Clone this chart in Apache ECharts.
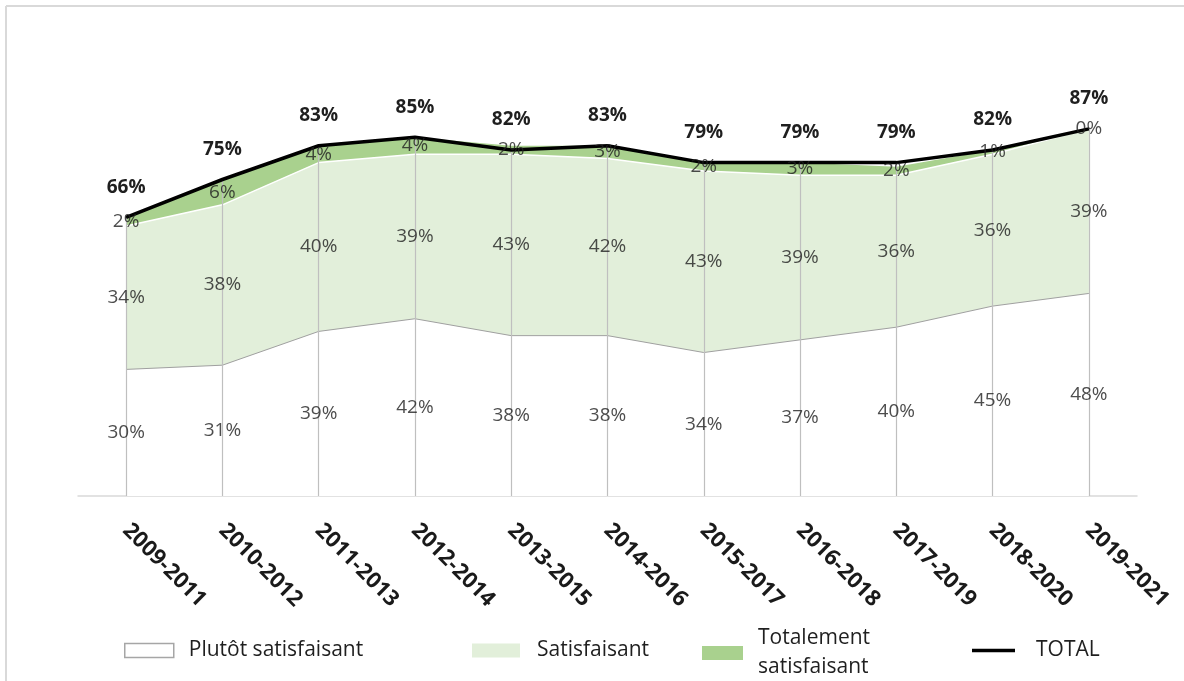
<!DOCTYPE html>
<html>
<head>
<meta charset="utf-8">
<script src="https://cdn.jsdelivr.net/npm/echarts@6/dist/echarts.min.js"></script>
<style>
  html, body { margin: 0; padding: 0; background: #ffffff; }
  #chart { width: 1184px; height: 681px; }
</style>
</head>
<body>
<div id="chart"></div>
<script>
// Périodes triennales
const periods = ['2009-2011', '2010-2012', '2011-2013', '2012-2014', '2013-2015', '2014-2016',
                 '2015-2017', '2016-2018', '2017-2019', '2018-2020', '2019-2021'];
// Parts (%) par niveau de satisfaction
const plutotSatisfaisant = [30, 31, 39, 42, 38, 38, 34, 37, 40, 45, 48];
const satisfaisant       = [34, 38, 40, 39, 43, 42, 43, 39, 36, 36, 39];
const totalementSatisf   = [2, 6, 4, 4, 2, 3, 2, 3, 2, 1, 0];
const total              = [66, 75, 83, 85, 82, 83, 79, 79, 79, 82, 87];

const FONT = '"Open Sans", "Noto Sans", sans-serif';

// Labels placed at the middle of each stacked band
function bandLabels(values, base) {
  return values.map((v, i) => [i, base[i] + v / 2, v]);
}
const zeros = periods.map(() => 0);
const base2 = plutotSatisfaisant.slice();
const base3 = plutotSatisfaisant.map((v, i) => v + satisfaisant[i]);

function labelSeries(name, values, base) {
  return {
    name: name + '-labels',
    type: 'scatter',
    data: bandLabels(values, base),
    symbolSize: 0,
    silent: true,
    z: 6,
    label: {
      show: true,
      position: 'inside',
      formatter: p => p.value[2] + '%',
      fontFamily: FONT,
      fontSize: 19,
      color: '#202020'
    }
  };
}

const legendText = { fontFamily: FONT, fontSize: 21, color: '#1f1f1f' };

const chart = echarts.init(document.getElementById('chart'), null, { renderer: 'canvas' });

chart.setOption({
  animation: false,
  backgroundColor: '#ffffff',
  grid: { left: 78, right: 47, top: 74, bottom: 185 },
  xAxis: {
    type: 'category',
    data: periods,
    boundaryGap: true,
    axisLine: { show: true, lineStyle: { color: '#d9d9d9', width: 1.5 } },
    axisTick: { show: false },
    splitLine: { show: false },
    axisLabel: {
      interval: 0,
      rotate: -45,
      margin: 31,
      fontFamily: FONT,
      fontSize: 22,
      fontWeight: 'bold',
      color: '#1a1a1a'
    }
  },
  yAxis: {
    type: 'value',
    min: 0,
    max: 100,
    show: false,
    splitLine: { show: false }
  },
  legend: [
    {
      left: 119, top: 635, itemWidth: 49, itemHeight: 14, itemGap: 0,
      selectedMode: false,
      textStyle: Object.assign({ padding: [0, 0, 0, 10] }, legendText),
      data: [{ name: 'Plutôt satisfaisant', icon: 'rect',
               itemStyle: { color: '#ffffff', borderColor: '#a6a6a6', borderWidth: 1.5 } }]
    },
    {
      left: 467, top: 635, itemWidth: 48, itemHeight: 14, itemGap: 0,
      selectedMode: false,
      textStyle: Object.assign({ padding: [0, 0, 0, 12] }, legendText),
      data: [{ name: 'Satisfaisant', icon: 'rect', itemStyle: { color: '#e2efda', borderWidth: 0 } }]
    },
    {
      left: 697, top: 619, itemWidth: 41, itemHeight: 14, itemGap: 0,
      selectedMode: false,
      formatter: () => 'Totalement\nsatisfaisant',
      textStyle: Object.assign({ lineHeight: 29, padding: [0, 0, 0, 10] }, legendText),
      data: [{ name: 'Totalement satisfaisant', icon: 'rect', itemStyle: { color: '#a9d18e', borderWidth: 0 } }]
    },
    {
      left: 967, top: 635, itemWidth: 43, itemHeight: 3.5, itemGap: 0,
      selectedMode: false,
      textStyle: Object.assign({ padding: [0, 0, 0, 16] }, legendText),
      data: [{ name: 'TOTAL', icon: 'rect', itemStyle: { color: '#000000', borderWidth: 0 } }]
    }
  ],
  graphic: [
    { type: 'line', shape: { x1: 6, y1: 6, x2: 1184, y2: 6 }, style: { stroke: '#d9d9d9', lineWidth: 2 }, silent: true },
    { type: 'line', shape: { x1: 6, y1: 6, x2: 6, y2: 681 }, style: { stroke: '#d9d9d9', lineWidth: 2 }, silent: true }
  ],
  series: [
    {
      name: 'Plutôt satisfaisant',
      type: 'line',
      stack: 'satisfaction',
      data: plutotSatisfaisant,
      symbol: 'none',
      z: 2,
      lineStyle: { color: '#a0a0a0', width: 1 },
      itemStyle: { color: '#ffffff' },
      areaStyle: { color: '#ffffff', opacity: 1 }
    },
    {
      name: 'Satisfaisant',
      type: 'line',
      stack: 'satisfaction',
      data: satisfaisant,
      symbol: 'none',
      z: 2,
      lineStyle: { color: '#ffffff', width: 1.5 },
      itemStyle: { color: '#e2efda' },
      areaStyle: { color: '#e2efda', opacity: 1 }
    },
    {
      name: 'Totalement satisfaisant',
      type: 'line',
      stack: 'satisfaction',
      data: totalementSatisf,
      symbol: 'none',
      z: 2,
      lineStyle: { width: 0 },
      itemStyle: { color: '#a9d18e' },
      areaStyle: { color: '#a9d18e', opacity: 1 }
    },
    {
      name: 'TOTAL',
      type: 'line',
      data: total,
      symbol: 'circle',
      symbolSize: 1,
      showSymbol: true,
      z: 5,
      lineStyle: { color: '#000000', width: 3.5 },
      itemStyle: { color: '#000000' },
      label: {
        show: true,
        position: 'top',
        distance: 20,
        formatter: p => p.value + '%',
        fontFamily: FONT,
        fontSize: 19,
        fontWeight: 'bold',
        color: '#1f1f1f'
      },
      labelLayout: { hideOverlap: false },
      markLine: {
        silent: true,
        symbol: 'none',
        z: 3,
        label: { show: false },
        lineStyle: { color: '#bfbfbf', width: 1.2, type: 'solid' },
        data: periods.map((c, i) => [{ coord: [c, 0] }, { coord: [c, total[i]] }])
      }
    },
    labelSeries('Plutôt satisfaisant', plutotSatisfaisant, zeros),
    labelSeries('Satisfaisant', satisfaisant, base2),
    labelSeries('Totalement satisfaisant', totalementSatisf, base3)
  ]
});
</script>
</body>
</html>
